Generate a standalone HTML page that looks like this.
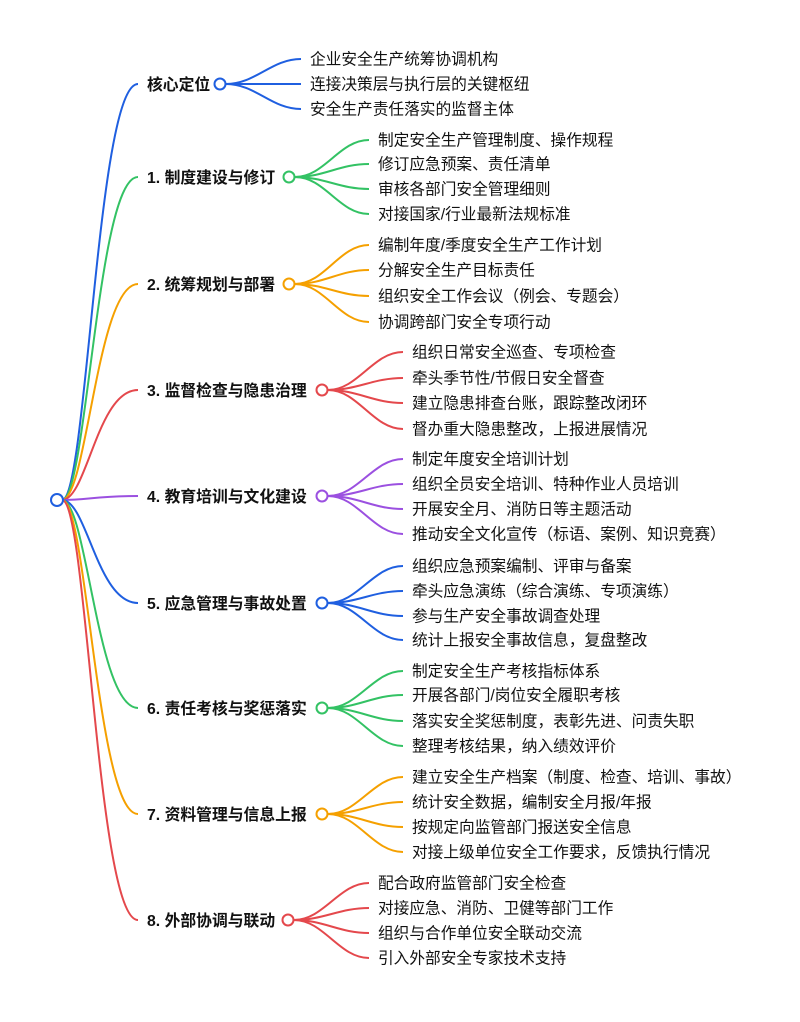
<!DOCTYPE html>
<html><head><meta charset="utf-8"><style>
html,body{margin:0;padding:0;background:#fff;}
svg text{font-family:"Liberation Sans","Noto Sans CJK SC",sans-serif;fill:#111;}
</style></head><body>
<svg id="s" width="800" height="1017" xmlns="http://www.w3.org/2000/svg"></svg>
<script>
const B='#1f5fe0',G='#33c264',O='#f5a000',R='#e4484c',P='#9b50e0';
const data=[
['核心定位',84,220,B,310,[59,84,109],['企业安全生产统筹协调机构','连接决策层与执行层的关键枢纽','安全生产责任落实的监督主体']],
['1. 制度建设与修订',177,289,G,378,[140,164,189,214],['制定安全生产管理制度、操作规程','修订应急预案、责任清单','审核各部门安全管理细则','对接国家/行业最新法规标准']],
['2. 统筹规划与部署',284,289,O,378,[245,270,296,322],['编制年度/季度安全生产工作计划','分解安全生产目标责任','组织安全工作会议（例会、专题会）','协调跨部门安全专项行动']],
['3. 监督检查与隐患治理',390,322,R,412,[352,378,403,429],['组织日常安全巡查、专项检查','牵头季节性/节假日安全督查','建立隐患排查台账，跟踪整改闭环','督办重大隐患整改，上报进展情况']],
['4. 教育培训与文化建设',496,322,P,412,[459,484,509,534],['制定年度安全培训计划','组织全员安全培训、特种作业人员培训','开展安全月、消防日等主题活动','推动安全文化宣传（标语、案例、知识竞赛）']],
['5. 应急管理与事故处置',603,322,B,412,[566,591,616,640],['组织应急预案编制、评审与备案','牵头应急演练（综合演练、专项演练）','参与生产安全事故调查处理','统计上报安全事故信息，复盘整改']],
['6. 责任考核与奖惩落实',708,322,G,412,[671,695,721,746],['制定安全生产考核指标体系','开展各部门/岗位安全履职考核','落实安全奖惩制度，表彰先进、问责失职','整理考核结果，纳入绩效评价']],
['7. 资料管理与信息上报',814,322,O,412,[777,802,827,852],['建立安全生产档案（制度、检查、培训、事故）','统计安全数据，编制安全月报/年报','按规定向监管部门报送安全信息','对接上级单位安全工作要求，反馈执行情况']],
['8. 外部协调与联动',920,288,R,378,[883,908,933,958],['配合政府监管部门安全检查','对接应急、消防、卫健等部门工作','组织与合作单位安全联动交流','引入外部安全专家技术支持']]
];
let h='';const rx=57,ry=500;
data.forEach(d=>{
 const [t,y,cx,c,lx,ys,ls]=d;
 h+=`<path d="M${rx+5} ${ry} C ${rx+30} ${ry}, ${rx+40} ${y}, 138 ${y}" stroke="${c}" stroke-width="2" fill="none"/>`;
 h+=`<text x="147" y="${y+6}" font-size="15.8" font-weight="bold">${t}</text>`;
 ys.forEach((ly,i)=>{
  const x0=cx+6,x1=lx-9;
  h+=`<path d="M${x0} ${y} C ${x0+30} ${y}, ${x1-30} ${ly}, ${x1} ${ly}" stroke="${c}" stroke-width="2" fill="none"/>`;
  h+=`<text x="${lx}" y="${ly+5.5}" font-size="15.7">${ls[i]}</text>`;
 });
 h+=`<circle cx="${cx}" cy="${y}" r="5.5" fill="#fff" stroke="${c}" stroke-width="2"/>`;
});
h+=`<circle cx="${rx}" cy="${ry}" r="6" fill="#fff" stroke="${B}" stroke-width="2"/>`;
document.getElementById('s').innerHTML=h;
</script>
</body></html>
